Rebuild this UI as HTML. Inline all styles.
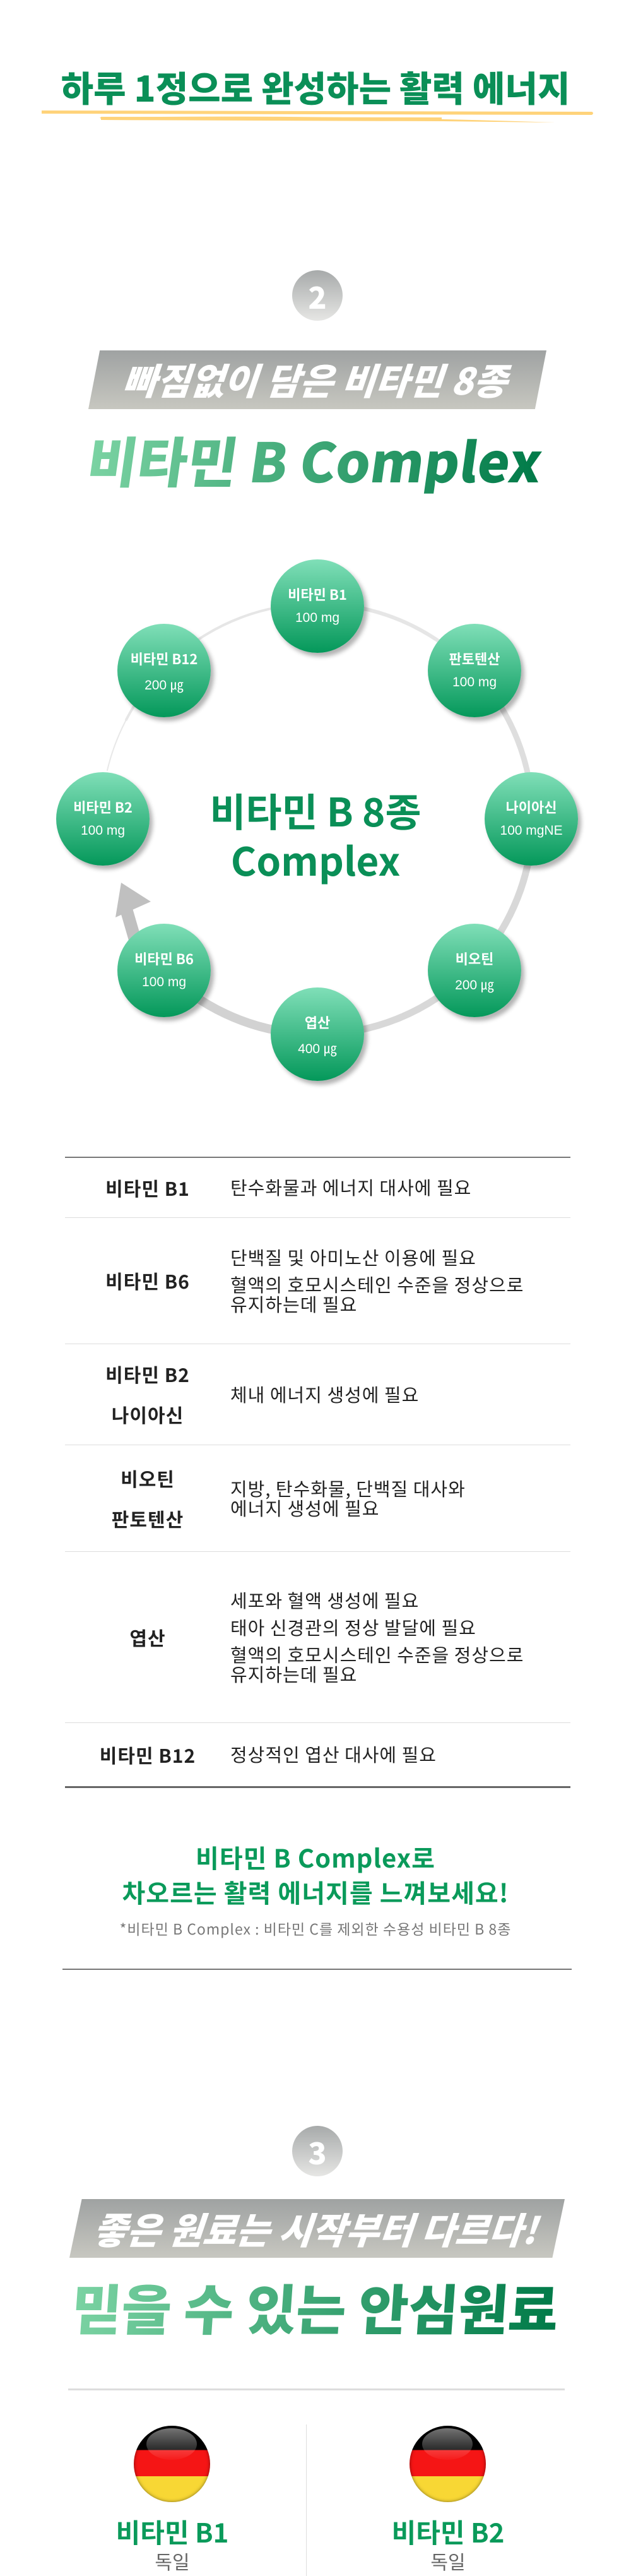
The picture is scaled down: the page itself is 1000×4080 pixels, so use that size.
<!DOCTYPE html>
<html><head><meta charset="utf-8">
<style>
*{margin:0;padding:0;box-sizing:border-box}
body{width:1000px;height:4073px;background:#fff;position:relative;overflow:hidden;font-family:"Liberation Sans","Noto Sans CJK KR",sans-serif}
.a{position:absolute}
.c{position:absolute;left:0;width:1000px;text-align:center;white-space:nowrap}
.badge{position:absolute;width:80px;height:80px;border-radius:50%;background:linear-gradient(#a7aaaa,#e6e6e4);color:#fff;font:900 48px/80px "Noto Sans CJK KR",sans-serif;text-align:center}
.banner{position:absolute;background:linear-gradient(#9fa2a2,#c7c7c0);clip-path:polygon(2.5% 0,100% 0,97.5% 100%,0 100%)}
.btxt{color:#fff;font-family:"Noto Sans CJK KR",sans-serif;font-weight:900;font-style:italic;transform:skewX(-5deg)}
.grad{display:inline-block;font-family:"Noto Sans CJK KR",sans-serif;font-weight:900;background:linear-gradient(90deg,#7bd3a3,#007a48);-webkit-background-clip:text;background-clip:text;color:transparent}
.node{position:absolute;width:148px;height:148px;border-radius:50%;background:linear-gradient(#80dfb8,#04985a);box-shadow:5px 6px 7px rgba(0,0,0,.3);color:#fff;text-align:center;font-family:"Liberation Sans","Noto Sans CJK KR",sans-serif}
.node b{display:block;font:700 22px/1 "Noto Sans CJK KR",sans-serif;margin-top:44px}
.node span{display:block;font-size:21px;margin-top:15px}
table{position:absolute;left:103px;top:1832px;width:801px;border-collapse:collapse;border-top:2px solid #777;border-bottom:3px solid #666}
td{border-bottom:1px solid #ddd;vertical-align:middle;color:#222}
td.l{width:262px;text-align:center;font:700 30px/64px "Noto Sans CJK KR",sans-serif;letter-spacing:1px}
td.d{font:400 29px/31px "Noto Sans CJK KR",sans-serif;letter-spacing:1px;white-space:nowrap}
td.d p{margin:12px 0}
</style></head><body>

<div class="c" style="top:100px;font:900 56px/76px 'Noto Sans CJK KR',sans-serif;color:#0a8f57">하루 1정으로 완성하는 활력 에너지</div>
<svg class="a" style="left:0;top:165px" width="1000" height="40">
<path d="M66 10 L938 12 Q942 14 938 17 L66 15 Z" fill="#ffd37a"/>
<path d="M158 21 Q500 16 880 29 L700 27 Q400 26 162 25 Z" fill="#ffd37a"/>
<path d="M160 20 L700 21 L700 26 L160 25 Z" fill="#ffd37a"/>
</svg>

<div class="badge" style="left:463px;top:428px">2</div>
<div class="banner" style="left:140px;top:555px;width:726px;height:93px"></div>
<div class="c btxt" style="top:560px;font-size:58px;line-height:80px">빠짐없이 담은 비타민 8종</div>
<div class="c" style="top:672px"><span class="grad" style="font-size:86px;line-height:110px;transform:skewX(-8deg)">비타민 B Complex</span></div>

<svg class="a" style="left:0;top:900px" width="1000" height="800">
<g fill="none" stroke-linecap="round">
<path d="M 200 240 A 341 341 0 0 1 503 56" stroke="#e6e6e6" stroke-width="4"/>
<path d="M 503 56 A 341 341 0 0 1 790 213" stroke="#e6e6e6" stroke-width="6"/>
<path d="M 790 213 A 341 341 0 0 1 844 397" stroke="#dedede" stroke-width="9"/>
<path d="M 844 397 A 341 341 0 0 1 503 738" stroke="#d8d8d8" stroke-width="11"/>
<path d="M 503 738 A 341 341 0 0 1 240 615" stroke="#d2d2d2" stroke-width="14"/>
<path d="M 200 240 A 341 341 0 0 0 170 320" stroke="#e8e8e8" stroke-width="2"/>
</g>
<path d="M218 602 L200 540" stroke="#c0c0c0" stroke-width="20"/>
<polygon points="192,498 183,553 239,528" fill="#c0c0c0"/>
</svg>

<div class="node" style="left:429px;top:886px"><b>비타민 B1</b><span>100 mg</span></div>
<div class="node" style="left:678px;top:988px"><b>판토텐산</b><span>100 mg</span></div>
<div class="node" style="left:768px;top:1223px"><b>나이아신</b><span>100 mgNE</span></div>
<div class="node" style="left:678px;top:1463px"><b>비오틴</b><span>200 ㎍</span></div>
<div class="node" style="left:429px;top:1564px"><b>엽산</b><span>400 ㎍</span></div>
<div class="node" style="left:186px;top:1463px"><b>비타민 B6</b><span>100 mg</span></div>
<div class="node" style="left:89px;top:1223px"><b>비타민 B2</b><span>100 mg</span></div>
<div class="node" style="left:186px;top:988px"><b>비타민 B12</b><span>200 ㎍</span></div>

<div class="c" style="top:1242px;font:700 62px/80px 'Noto Sans CJK KR',sans-serif;color:#0a8f57">비타민 B 8종</div>
<div class="c" style="top:1320px;font:700 62px/80px 'Noto Sans CJK KR',sans-serif;color:#0a8f57">Complex</div>

<table>
<tr style="height:95px"><td class="l">비타민 B1</td><td class="d">탄수화물과 에너지 대사에 필요</td></tr>
<tr style="height:200px"><td class="l">비타민 B6</td><td class="d"><p>단백질 및 아미노산 이용에 필요</p><p>혈액의 호모시스테인 수준을 정상으로<br>유지하는데 필요</p></td></tr>
<tr style="height:160px"><td class="l">비타민 B2<br>나이아신</td><td class="d">체내 에너지 생성에 필요</td></tr>
<tr style="height:169px"><td class="l">비오틴<br>판토텐산</td><td class="d">지방, 탄수화물, 단백질 대사와<br>에너지 생성에 필요</td></tr>
<tr style="height:271px"><td class="l">엽산</td><td class="d"><p>세포와 혈액 생성에 필요</p><p>태아 신경관의 정상 발달에 필요</p><p>혈액의 호모시스테인 수준을 정상으로<br>유지하는데 필요</p></td></tr>
<tr style="height:102px"><td class="l" style="border-bottom:none">비타민 B12</td><td class="d" style="border-bottom:none">정상적인 엽산 대사에 필요</td></tr>
</table>

<div class="c" style="top:2916px;font:700 40px/50px 'Noto Sans CJK KR',sans-serif;color:#0a9a5a;letter-spacing:1px">비타민 B Complex로</div>
<div class="c" style="top:2971px;font:700 40px/50px 'Noto Sans CJK KR',sans-serif;color:#0a9a5a;letter-spacing:1px">차오르는 활력 에너지를 느껴보세요!</div>
<div class="c" style="top:3039px;font:400 23px/30px 'Noto Sans CJK KR',sans-serif;color:#777;letter-spacing:1px">*비타민 B Complex : 비타민 C를 제외한 수용성 비타민 B 8종</div>
<div class="a" style="left:99px;top:3118px;width:807px;height:2px;background:#777"></div>

<div class="badge" style="left:463px;top:3367px">3</div>
<div class="banner" style="left:110px;top:3483px;width:785px;height:93px"></div>
<div class="c btxt" style="top:3489px;font-size:58px;line-height:80px">좋은 원료는 시작부터 다르다!</div>
<div class="c" style="top:3598px"><span class="grad" style="font-size:86px;line-height:110px;transform:skewX(-4deg)">믿을 수 있는 안심원료</span></div>

<div class="a" style="left:108px;top:3783px;width:787px;height:3px;background:#ddd"></div>
<div class="a" style="left:485px;top:3840px;width:1px;height:240px;background:#ddd"></div>

<div class="a" style="left:212px;top:3842px;width:121px;height:121px;border-radius:50%;overflow:hidden;background:linear-gradient(#000 0,#000 32%,#f51515 32%,#f51515 66%,#f8d734 66%);box-shadow:inset 0 0 6px rgba(0,0,0,.5)"><div style="position:absolute;left:20px;top:4px;width:80px;height:50px;border-radius:50%;background:linear-gradient(rgba(255,255,255,.45),rgba(255,255,255,.03))"></div></div>
<div class="a" style="left:649px;top:3842px;width:121px;height:121px;border-radius:50%;overflow:hidden;background:linear-gradient(#000 0,#000 32%,#f51515 32%,#f51515 66%,#f8d734 66%);box-shadow:inset 0 0 6px rgba(0,0,0,.5)"><div style="position:absolute;left:20px;top:4px;width:80px;height:50px;border-radius:50%;background:linear-gradient(rgba(255,255,255,.45),rgba(255,255,255,.03))"></div></div>

<div class="a" style="left:73px;top:3982px;width:400px;text-align:center;font:700 42px/56px 'Noto Sans CJK KR',sans-serif;color:#0a9a5a">비타민 B1</div>
<div class="a" style="left:510px;top:3982px;width:400px;text-align:center;font:700 42px/56px 'Noto Sans CJK KR',sans-serif;color:#0a9a5a">비타민 B2</div>
<div class="a" style="left:73px;top:4036px;width:400px;text-align:center;font:400 30px/40px 'Noto Sans CJK KR',sans-serif;color:#666">독일</div>
<div class="a" style="left:510px;top:4036px;width:400px;text-align:center;font:400 30px/40px 'Noto Sans CJK KR',sans-serif;color:#666">독일</div>
</body></html>
